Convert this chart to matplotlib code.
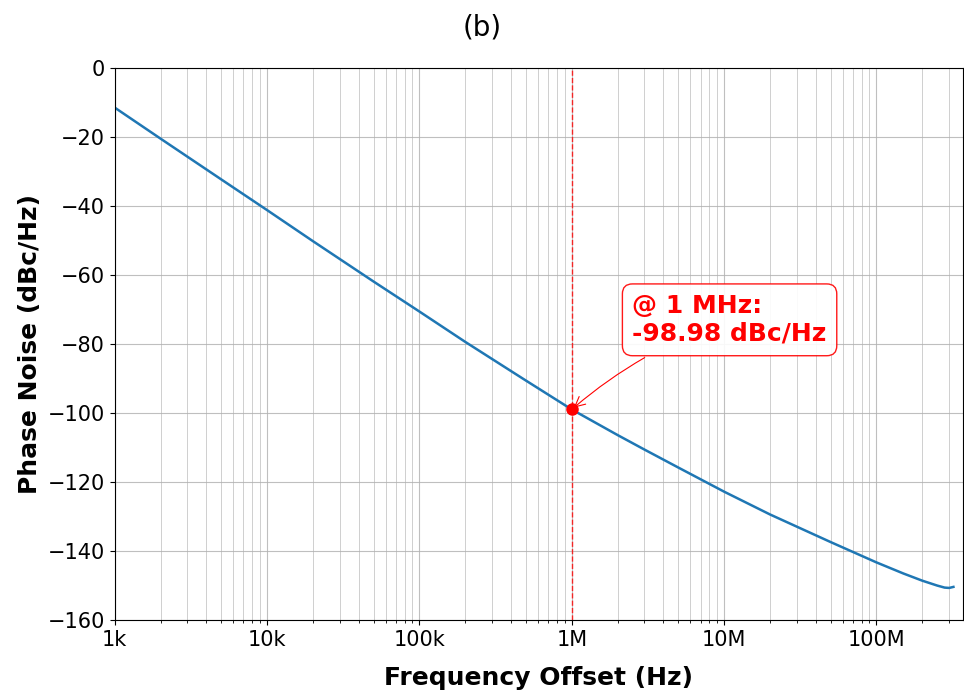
import numpy as np
import matplotlib.pyplot as plt
from matplotlib.ticker import FixedLocator, FixedFormatter

# phase noise curve
freq = [1e3, 2e3, 5e3, 1e4, 2e4, 5e4, 1e5, 2e5, 5e5, 1e6, 2e6, 3e6, 5e6,
        1e7, 2e7, 5e7, 1e8, 1.5e8, 2e8, 2.5e8, 2.8e8, 3.0e8, 3.2e8]
pn = [-11.5, -20.5, -32.3, -41.2, -50.2, -61.9, -70.6, -79.4, -90.6, -98.98,
      -106.4, -110.6, -115.8, -122.8, -129.4, -137.4, -143.3, -146.5, -148.6,
      -150.0, -150.6, -150.7, -150.4]
tick_pos = [1e3, 1e4, 1e5, 1e6, 1e7, 1e8]
tick_lab = ["1k", "10k", "100k", "1M", "10M", "100M"]
f_mark = 1e6
pn_mark = -98.98

fig = plt.figure(figsize=(9.64, 6.91), dpi=100)
ax = fig.add_axes([0.119, 0.1027, 0.88, 0.799])

ax.semilogx(freq, pn, color="#1f77b4", lw=1.8)
ax.axvline(f_mark, color="red", ls="--", lw=1, alpha=0.8)
ax.plot(f_mark, pn_mark, "o", color="red", ms=8)
ax.annotate("@ 1 MHz:\n%.2f dBc/Hz" % pn_mark, xy=(f_mark, pn_mark),
            xytext=(2.5e6, -73), color="red", fontsize=18, fontweight="bold",
            ha="left", va="center",
            bbox=dict(boxstyle="round,pad=0.4", fc="white", ec="red", alpha=0.9),
            arrowprops=dict(arrowstyle="->", color="red", lw=0.8,
                            connectionstyle="arc3,rad=0.1"))

ax.set_xlim(1e3, 3.7e8)
ax.set_ylim(-160, 0)
ax.xaxis.set_major_locator(FixedLocator(tick_pos))
ax.xaxis.set_major_formatter(FixedFormatter(tick_lab))
ax.grid(True, which="major", color="#b0b0b0", lw=0.8, alpha=0.8)
ax.grid(True, which="minor", axis="x", color="#b0b0b0", lw=0.6, alpha=0.7)
ax.tick_params(labelsize=15)
ax.set_xlabel("Frequency Offset (Hz)", fontsize=18, fontweight="bold", labelpad=12)
ax.set_ylabel("Phase Noise (dBc/Hz)", fontsize=18, fontweight="bold")
fig.suptitle("(b)", fontsize=20, y=0.98)

fig.savefig("out.png", dpi=100)
